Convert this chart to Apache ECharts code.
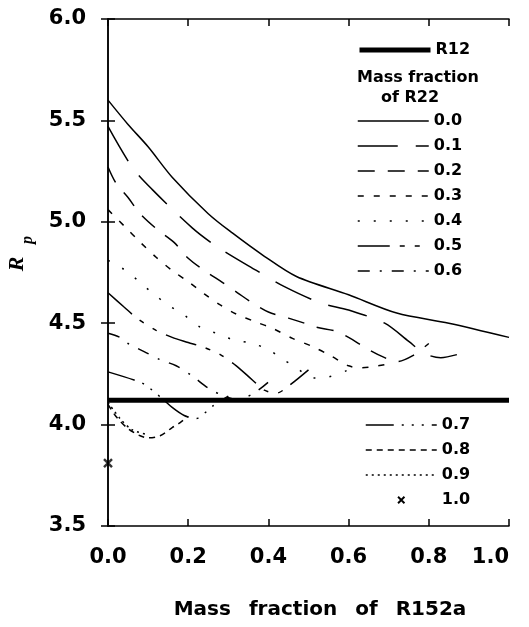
<!DOCTYPE html>
<html><head><meta charset="utf-8">
<script src="https://cdn.jsdelivr.net/npm/echarts@6/dist/echarts.min.js"></script>
<style>html,body{margin:0;padding:0;background:#fff}#c{width:529px;height:627px}</style>
</head><body><div id="c"></div>
<script>
// ---- data ----
const xTickLabels = ['0.0', '0.2', '0.4', '0.6', '0.8', '1.0'];
const yTickLabels = ['3.5', '4.0', '4.5', '5.0', '5.5', '6.0'];
const r12 = [[0, 4.12], [1, 4.12]];
const f00 = [[0,5.60],[0.05,5.48],[0.10,5.37],[0.16,5.22],[0.25,5.04],[0.31,4.945],[0.39,4.83],[0.47,4.73],[0.60,4.64],[0.72,4.55],[0.85,4.50],[1.00,4.43]];
const f01 = [[0,5.47],[0.06,5.27],[0.11,5.16],[0.21,4.97],[0.27,4.88],[0.37,4.76],[0.44,4.68],[0.53,4.60],[0.60,4.565],[0.69,4.50],[0.75,4.41],[0.79,4.35],[0.83,4.33],[0.87,4.345]];
const f02 = [[0,5.27],[0.02,5.19],[0.05,5.12],[0.08,5.04],[0.124,4.96],[0.164,4.90],[0.20,4.82],[0.24,4.76],[0.286,4.70],[0.323,4.65],[0.36,4.60],[0.40,4.555],[0.45,4.525],[0.49,4.50],[0.52,4.48],[0.57,4.46],[0.60,4.43],[0.65,4.37],[0.69,4.33],[0.72,4.31],[0.76,4.34],[0.80,4.40]];
const f03 = [[0,5.06],[0.04,4.98],[0.08,4.90],[0.12,4.825],[0.16,4.76],[0.20,4.705],[0.24,4.645],[0.28,4.59],[0.32,4.545],[0.37,4.505],[0.41,4.475],[0.46,4.425],[0.51,4.385],[0.555,4.34],[0.60,4.29],[0.63,4.28],[0.66,4.285],[0.70,4.30]];
const f04 = [[0,4.81],[0.04,4.765],[0.075,4.71],[0.11,4.65],[0.15,4.59],[0.19,4.54],[0.23,4.48],[0.27,4.45],[0.31,4.42],[0.36,4.40],[0.40,4.37],[0.43,4.33],[0.47,4.28],[0.51,4.23],[0.55,4.235],[0.60,4.27]];
const f05 = [[0,4.65],[0.04,4.58],[0.075,4.52],[0.12,4.465],[0.16,4.43],[0.20,4.405],[0.24,4.38],[0.28,4.345],[0.32,4.29],[0.36,4.22],[0.39,4.17],[0.42,4.155],[0.45,4.19],[0.50,4.27]];
const f06 = [[0,4.45],[0.03,4.43],[0.05,4.40],[0.09,4.36],[0.13,4.32],[0.17,4.29],[0.21,4.24],[0.25,4.18],[0.29,4.14],[0.32,4.125],[0.36,4.15],[0.40,4.21]];
const f07 = [[0,4.26],[0.065,4.22],[0.09,4.20],[0.11,4.17],[0.14,4.12],[0.16,4.085],[0.19,4.045],[0.22,4.03],[0.24,4.055],[0.26,4.09],[0.30,4.14]];
const f08 = [[0,4.10],[0.02,4.04],[0.05,3.98],[0.08,3.945],[0.10,3.935],[0.13,3.945],[0.16,3.985],[0.18,4.01],[0.20,4.04]];
const f09 = [[0,4.11],[0.03,4.03],[0.06,3.975],[0.10,3.95]];
const f10 = [[0,3.81]];
const seriesNames = ['0.0','0.1','0.2','0.3','0.4','0.5','0.6','0.7','0.8','0.9'];
const seriesData = [f00,f01,f02,f03,f04,f05,f06,f07,f08,f09];

// ---- styles ----
const dashes = [
  'solid', [40,18], [17,13], [6,10], [2,14], [32,10,5,10,5,10], [12,10,2,10], [28,8,2,8,2,8,2,8], [6,5], [2,4]
];
const black = '#000';
const font = 'DejaVu Sans';
const crossPath = 'path://M0,0L0.01,0L0,0.01Z M6.85,5.15L14.85,13.15L13.15,14.85L5.15,6.85Z M13.15,5.15L14.85,6.85L6.85,14.85L5.15,13.15Z M20,20L19.99,20L20,19.99Z';

const series = [{
  name: 'R12', type: 'line', data: r12, symbol: 'none', silent: true,
  lineStyle: { color: black, width: 5, type: 'solid' }, z: 3
}];
seriesNames.forEach((n, i) => {
  series.push({
    name: n, type: 'line', data: seriesData[i], symbol: 'none', smooth: 0.3, silent: true,
    lineStyle: { color: black, width: 1.5, type: dashes[i] }, itemStyle: { color: black }
  });
});
series.push({
  name: '1.0', type: 'scatter', data: f10, symbol: crossPath, symbolSize: 20,
  itemStyle: { color: black }, silent: true
});

const legendText = { fontFamily: font, fontWeight: 'bold', fontSize: 16, color: black };
const legendCommon = {
  orient: 'vertical', itemWidth: 71, itemHeight: 16, itemGap: 9, selectedMode: false,
  textStyle: legendText, lineStyle: { width: 'inherit' }, itemStyle: { opacity: 0 }, padding: 0
};

const axisLine = { lineStyle: { color: black, width: 1.5 } };
const axisTick = { inside: true, length: 7, lineStyle: { color: black, width: 1.5 } };
const tickFont = { fontFamily: font, fontWeight: 'bold', fontSize: 21, color: black };

const chart = echarts.init(document.getElementById('c'), null, { renderer: 'canvas' });
chart.setOption({
  animation: false,
  backgroundColor: '#fff',
  grid: { left: 108, right: 20, top: 19, bottom: 101 },
  xAxis: [
    { type: 'value', min: 0, max: 1, interval: 0.2, position: 'bottom', axisLine, axisTick,
      splitLine: { show: false },
      axisLabel: Object.assign({ margin: 21, alignMaxLabel: 'right', formatter: v => xTickLabels[Math.round(v / 0.2)] }, tickFont) },
    { type: 'value', min: 0, max: 1, interval: 0.2, position: 'top', axisLine, axisTick,
      splitLine: { show: false }, axisLabel: { show: false } }
  ],
  yAxis: [
    { type: 'value', min: 3.5, max: 6, interval: 0.5, position: 'left', axisLine, axisTick,
      splitLine: { show: false },
      axisLabel: Object.assign({ margin: 22, formatter: v => yTickLabels[Math.round((v - 3.5) / 0.5)] }, tickFont) },
    { type: 'value', min: 3.5, max: 6, interval: 0.5, position: 'right', axisLine, axisTick,
      splitLine: { show: false }, axisLabel: { show: false } }
  ],
  legend: [
    Object.assign({}, legendCommon, { data: ['R12'], left: 357, top: 42 }),
    Object.assign({}, legendCommon, { data: ['0.0','0.1','0.2','0.3','0.4','0.5','0.6'], left: 357, top: 113 }),
    Object.assign({}, legendCommon, { data: ['0.7','0.8','0.9', { name: '1.0', itemStyle: { opacity: 1 } }], left: 365, top: 417 })
  ],
  graphic: [
    { type: 'text', left: 357, top: 70, style: { text: 'Mass fraction', fontFamily: font, fontWeight: 'bold', fontSize: 16, fill: black } },
    { type: 'text', left: 381, top: 90, style: { text: 'of R22', fontFamily: font, fontWeight: 'bold', fontSize: 16, fill: black } },
    { type: 'text', x: 320, y: 610, style: { text: 'Mass{s| }fraction{s| }of{s| }R152a', rich: { s: { width: 18 } },
        fontFamily: font, fontWeight: 'bold', fontSize: 20, fill: black, align: 'center', verticalAlign: 'middle' } },
    { type: 'text', x: 17, y: 264, rotation: Math.PI / 2, style: { text: 'R', fontFamily: 'Liberation Serif', fontStyle: 'italic', fontWeight: 'bold', fontSize: 22, fill: black, align: 'center', verticalAlign: 'middle' } },
    { type: 'text', x: 28, y: 240, rotation: Math.PI / 2, style: { text: 'p', fontFamily: 'Liberation Serif', fontStyle: 'italic', fontWeight: 'bold', fontSize: 16, fill: black, align: 'center', verticalAlign: 'middle' } }
  ],
  series
});
</script></body></html>
